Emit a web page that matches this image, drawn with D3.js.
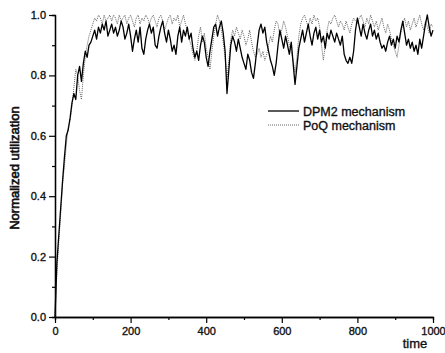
<!DOCTYPE html>
<html>
<head>
<meta charset="utf-8">
<script src="https://cdn.jsdelivr.net/npm/d3@7"></script>
<style>
  body { margin: 0; background: #fff; }
  svg { font-family: 'Liberation Sans', Arial, sans-serif; }
  text { stroke: #111; stroke-width: 0.35px; }
</style>
</head>
<body>
<div class="container"></div>
<script>
// sampling every 5 time units
const time = d3.range(0, 1001, 5);

const dpm2 = [
  0.00, 0.18, 0.27, 0.36, 0.45, 0.53, 0.60, 0.62, 0.66, 0.71,
  0.74, 0.72, 0.80, 0.83, 0.78, 0.84, 0.88, 0.86, 0.90, 0.91,
  0.93, 0.95, 0.92, 0.96, 0.94, 0.97, 0.95, 0.98, 0.93, 0.95,
  0.97, 0.94, 0.96, 0.93, 0.95, 0.98, 0.96, 0.92, 0.94, 0.97,
  0.93, 0.88, 0.92, 0.95, 0.91, 0.96, 0.89, 0.87, 0.92, 0.95,
  0.97, 0.94, 0.96, 0.90, 0.89, 0.93, 0.96, 0.98, 0.94, 0.91,
  0.95, 0.92, 0.88, 0.90, 0.87, 0.93, 0.96, 0.91, 0.95, 0.93,
  0.96, 0.92, 0.94, 0.89, 0.86, 0.88, 0.85, 0.90, 0.93, 0.91,
  0.86, 0.83, 0.88, 0.92, 0.96, 0.97, 0.93, 0.96, 0.98, 0.94,
  0.88, 0.74, 0.82, 0.90, 0.93, 0.91, 0.88, 0.92, 0.89, 0.86,
  0.84, 0.82, 0.87, 0.85, 0.81, 0.79, 0.84, 0.90, 0.95, 0.97,
  0.94, 0.96, 0.91, 0.88, 0.85, 0.83, 0.80, 0.84, 0.90, 0.95,
  0.92, 0.89, 0.93, 0.90, 0.87, 0.91, 0.84, 0.77, 0.83, 0.89,
  0.92, 0.95, 0.91, 0.94, 0.97, 0.93, 0.90, 0.94, 0.96, 0.92,
  0.95, 0.91, 0.93, 0.89, 0.94, 0.92, 0.95, 0.93, 0.91, 0.94,
  0.92, 0.90, 0.93, 0.87, 0.85, 0.84, 0.86, 0.84, 0.88, 0.95,
  0.99, 0.96, 0.93, 0.97, 0.94, 0.92, 0.95, 0.97, 0.93, 0.95,
  0.92, 0.94, 0.91, 0.89, 0.90, 0.88, 0.91, 0.93, 0.90, 0.92,
  0.89, 0.93, 0.91, 0.95, 0.98, 0.94, 0.90, 0.92, 0.89, 0.91,
  0.88, 0.90, 0.87, 0.92, 0.89, 0.93, 0.97, 1.00, 0.96, 0.93,
  0.95
];

const poq = [
  0.00, 0.15, 0.25, 0.34, 0.44, 0.50, 0.57, 0.63, 0.65, 0.70,
  0.76, 0.82, 0.80, 0.75, 0.72, 0.80, 0.86, 0.90, 0.93, 0.95,
  0.97, 0.99, 0.98, 1.00, 0.99, 0.97, 1.00, 0.98, 0.99, 1.00,
  0.98, 1.00, 0.99, 0.97, 1.00, 0.98, 0.99, 1.00, 0.97, 0.99,
  1.00, 0.98, 0.96, 0.99, 1.00, 0.97, 0.99, 0.98, 1.00, 0.99,
  0.97, 0.99, 1.00, 0.98, 0.96, 0.99, 1.00, 0.98, 0.95, 0.97,
  0.99, 1.00, 0.97, 0.99, 0.98, 1.00, 0.96, 0.98, 1.00, 0.97,
  0.95, 0.92, 0.90, 0.87, 0.85, 0.88, 0.93, 0.96, 0.91, 0.94,
  0.89, 0.86, 0.82, 0.88, 0.93, 0.97, 1.00, 0.98, 0.95, 0.91,
  0.86, 0.79, 0.85, 0.92, 0.95, 0.93, 0.96, 0.94, 0.92, 0.95,
  0.93, 0.90, 0.92, 0.95, 0.91, 0.88, 0.86, 0.87, 0.89, 0.86,
  0.88, 0.85, 0.87, 0.90, 0.93, 0.91, 0.95, 0.98, 0.97, 0.93,
  0.95, 0.98, 0.96, 0.93, 0.90, 0.88, 0.85, 0.81, 0.86, 0.93,
  0.97, 0.99, 1.00, 0.98, 0.96, 0.99, 0.97, 1.00, 0.98, 0.99,
  0.96, 0.90, 0.85, 0.90, 0.95, 0.98, 0.97, 0.99, 1.00, 0.98,
  0.96, 0.98, 0.97, 0.95, 0.98, 0.96, 0.94, 0.97, 0.99, 0.98,
  0.97, 0.99, 1.00, 0.98, 0.96, 0.99, 0.97, 1.00, 0.98, 0.96,
  0.98, 0.95, 0.97, 0.99, 0.96, 0.94, 0.97, 0.95, 0.92, 0.90,
  0.88, 0.86, 0.90, 0.94, 0.97, 0.99, 0.96, 0.98, 0.95, 0.97,
  0.99, 0.96, 0.98, 1.00, 0.97, 0.95, 0.98, 0.96, 0.94, 0.97,
  0.96
];

const xTicks = [0, 200, 400, 600, 800, 1000];
const xMinor = [100, 300, 500, 700, 900];
const yTicks = [0, 0.2, 0.4, 0.6, 0.8, 1.0];
const yMinor = [0.1, 0.3, 0.5, 0.7, 0.9];
const seriesNames = ['DPM2 mechanism', 'PoQ mechanism'];

const width = 445;
const height = 353;
const margin = { top: 15, right: 12, bottom: 36, left: 55 };
const chartWidth = width - margin.left - margin.right;
const chartHeight = height - margin.top - margin.bottom;

const svg = d3.select('.container').append('svg').attr('width', width).attr('height', height);
const chart = svg.append('g').attr('transform', `translate(${margin.left},${margin.top})`);

const xScale = d3.scaleLinear().domain([0, 1000]).range([0, chartWidth]);
const yScale = d3.scaleLinear().domain([0, 1]).range([chartHeight, 0]);

// minor ticks first, then major with labels
chart.append('g')
  .attr('transform', `translate(0,${chartHeight})`)
  .call(d3.axisBottom(xScale).tickValues(xMinor).tickSize(3).tickFormat(''));
chart.append('g')
  .call(d3.axisLeft(yScale).tickValues(yMinor).tickSize(3).tickFormat(''));

chart.append('g')
  .attr('transform', `translate(0,${chartHeight})`)
  .call(d3.axisBottom(xScale).tickValues(xTicks).tickSize(6).tickPadding(4).tickSizeOuter(0).tickFormat(d3.format('d')));
chart.append('g')
  .call(d3.axisLeft(yScale).tickValues(yTicks).tickSize(6).tickPadding(3).tickSizeOuter(0).tickFormat(d3.format('.1f')));

chart.selectAll('.domain').attr('stroke', '#000').attr('stroke-width', 1.3);
chart.selectAll('.tick line').attr('stroke', '#000').attr('stroke-width', 1.2);
chart.selectAll('.tick text').attr('fill', '#111').style('font-size', '11px');

const line = d3.line()
  .x((d, i) => xScale(time[i]))
  .y(d => yScale(d));

chart.append('path')
  .attr('d', line(poq))
  .attr('fill', 'none')
  .attr('stroke', '#666')
  .attr('stroke-width', 1)
  .attr('stroke-dasharray', '1,1');

chart.append('path')
  .attr('d', line(dpm2))
  .attr('fill', 'none')
  .attr('stroke', '#000')
  .attr('stroke-width', 1.3)
  .attr('stroke-linejoin', 'round');

// legend
const legend = svg.append('g').attr('transform', 'translate(268,111)');
legend.append('line').attr('x1', 0).attr('x2', 31).attr('y1', 0).attr('y2', 0)
  .attr('stroke', '#000').attr('stroke-width', 1.3);
legend.append('line').attr('x1', 0).attr('x2', 31).attr('y1', 14).attr('y2', 14)
  .attr('stroke', '#666').attr('stroke-width', 1).attr('stroke-dasharray', '1,1');
legend.selectAll('text').data(seriesNames).enter().append('text')
  .attr('x', 35)
  .attr('y', (d, i) => i * 14 + 4.5)
  .style('font-size', '12.5px')
  .attr('fill', '#111')
  .text(d => d);

svg.append('text')
  .text('Normalized utilization')
  .attr('transform', `translate(19,${margin.top + chartHeight / 2 + 2}) rotate(-90)`)
  .attr('text-anchor', 'middle')
  .style('font-size', '13px')
  .style('stroke-width', '0.6px')
  .attr('fill', '#111');

svg.append('text')
  .text('time')
  .attr('x', 415)
  .attr('y', 348)
  .attr('text-anchor', 'middle')
  .style('font-size', '13px')
  .attr('fill', '#111');
</script>
</body>
</html>
